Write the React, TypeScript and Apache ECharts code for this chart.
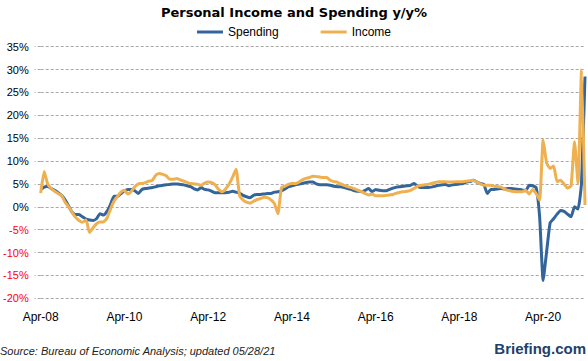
import React, { useEffect, useRef } from "react";
import * as echarts from "echarts";

const MONTH_NAMES = ["Jan", "Feb", "Mar", "Apr", "May", "Jun", "Jul", "Aug", "Sep", "Oct", "Nov", "Dec"];
const START_YEAR = 2008;
const START_MONTH = 3; // April

const spending = [
  3.8, 4.3, 4.5, 4.0, 3.6, 3.1, 2.5, 1.5, 0.2, -1.2, -1.7, -1.7,
  -2.2, -2.7, -2.9, -3.0, -2.6, -1.5, -1.8, -1.0, 0.5, 2.3, 2.3, 2.9,
  3.5, 3.8, 3.8, 3.5, 2.9, 3.8, 4.0, 4.1, 4.2, 4.4, 4.6, 4.7,
  4.8, 4.9, 5.0, 5.0, 4.9, 4.8, 4.6, 4.4, 3.9, 3.7, 4.2, 3.8,
  3.7, 3.4, 3.1, 3.1, 3.1, 3.1, 3.2, 3.4, 3.2, 3.0, 2.5, 2.2,
  2.0, 2.5, 2.7, 2.7, 2.8, 2.9, 2.9, 3.2, 3.3, 3.5, 3.9, 4.4,
  4.6, 4.8, 5.0, 5.1, 5.3, 5.4, 5.4, 5.0, 4.8, 4.8, 4.8, 4.7,
  4.5, 4.4, 4.4, 4.2, 4.0, 3.8, 3.5, 3.4, 3.3, 3.6, 4.0, 3.3,
  3.8, 3.6, 3.5, 3.5, 3.8, 4.1, 4.3, 4.4, 4.5, 4.6, 4.7, 5.1,
  4.5, 4.2, 4.2, 4.2, 4.3, 4.5, 4.7, 4.8, 4.9, 4.6, 4.8, 4.9,
  5.0, 5.1, 5.4, 5.5, 5.8, 5.4, 5.1, 4.9, 2.9, 3.8, 3.8, 3.9,
  4.0, 3.9, 4.0, 4.0, 3.9, 3.8, 3.7, 3.5, 4.7, 4.6, 4.2, -2.2,
  -16.1, -9.8, -3.5, -2.6, -1.6, -0.8, -1.0, -1.6, -2.2, 0.0, -0.5, 5.2,
  28.5,
];

const income = [
  3.0, 7.7, 5.0, 4.0, 3.4, 2.9, 2.5, 1.0, 0.0, -1.2, -2.3, -3.0,
  -3.4, -2.9, -5.6, -4.6, -3.7, -3.3, -3.3, -2.5, -0.5, 1.2, 2.3, 3.2,
  3.6, 2.8, 3.4, 4.4, 5.0, 5.1, 5.3, 5.6, 5.8, 6.9, 7.3, 7.1,
  6.8, 6.0, 6.0, 6.2, 5.9, 5.6, 5.3, 5.1, 5.0, 4.9, 4.7, 5.2,
  5.4, 5.3, 4.8, 3.8, 3.3, 3.9, 5.0, 6.5, 8.2, 2.5, 1.5, 1.0,
  0.8, 1.2, 1.6, 1.8, 2.1, 2.0, 1.5, 0.7, -1.5, 4.2, 4.5, 4.9,
  5.1, 5.1, 5.4, 5.9, 6.2, 6.4, 6.7, 6.6, 6.5, 6.4, 6.4, 5.8,
  5.5, 5.4, 5.0, 4.7, 4.4, 4.2, 3.9, 3.6, 3.3, 2.9, 2.6, 2.8,
  2.4, 2.4, 2.4, 2.5, 2.6, 2.7, 3.0, 3.2, 3.3, 3.4, 3.6, 4.0,
  4.5, 4.7, 4.8, 4.9, 5.1, 5.3, 5.5, 5.5, 5.5, 5.4, 5.4, 5.5,
  5.5, 5.5, 5.6, 5.7, 5.8, 5.4, 5.0, 4.7, 4.7, 4.7, 4.5, 4.4,
  4.3, 3.8, 3.6, 3.4, 3.3, 3.3, 3.3, 3.6, 2.8, 3.8, 2.9, 1.5,
  14.6, 9.6, 8.4, 8.9, 5.5, 5.8, 5.0, 4.1, 4.6, 14.2, 5.1, 29.9,
  0.4,
];

const categories = spending.map((_, i) => {
  const t = START_MONTH + i;
  const yr = (START_YEAR + Math.floor(t / 12)) % 100;
  return MONTH_NAMES[t % 12] + "-" + String(yr).padStart(2, "0");
});

const Y_MIN = -20;
const Y_MAX = 35;
const Y_STEP = 5;
const LABEL_EVERY = 24;

const TITLE = "Personal Income and Spending y/y%";
const SOURCE = "Source: Bureau of Economic Analysis; updated 05/28/21";
const BRAND = "Briefing.com";

const BLUE = "#33659b";
const ORANGE = "#efb04f";
const GRID_COLOR = "#a8a8a8";

export default function App() {
  const ref = useRef<HTMLDivElement>(null);

  useEffect(() => {
    document.body.style.margin = "0";
    if (!ref.current) return;
    const chart = echarts.init(ref.current, null, { renderer: "svg" });
    const gridLine = { color: GRID_COLOR, width: 1, type: [3, 2] as any };
    chart.setOption({
      animation: false,
      backgroundColor: "#ffffff",
      title: {
        text: TITLE,
        left: "center",
        top: 1,
        textStyle: {
          fontFamily: "DejaVu Sans",
          fontWeight: "bold",
          fontSize: 13,
          color: "#000",
        },
      },
      legend: {
        top: 21,
        left: "center",
        icon: "rect",
        itemWidth: 26,
        itemHeight: 3,
        itemGap: 42,
        textStyle: { fontFamily: "Liberation Sans", fontSize: 12, color: "#000" },
        data: ["Spending", "Income"],
      },
      grid: { left: 39, right: 3, top: 46.7, bottom: 62.7, containLabel: false },
      xAxis: {
        type: "category",
        data: categories,
        boundaryGap: false,
        axisLine: { show: false },
        axisTick: { show: false },
        splitLine: { show: false },
        axisLabel: {
          interval: LABEL_EVERY - 1,
          margin: 13,
          fontFamily: "Liberation Sans",
          fontSize: 12,
          color: "#000",
        },
      },
      yAxis: {
        type: "value",
        min: Y_MIN,
        max: Y_MAX,
        interval: Y_STEP,
        axisLine: { show: false },
        axisTick: { show: true, length: 6, lineStyle: gridLine },
        splitLine: { show: true, lineStyle: gridLine },
        axisLabel: {
          formatter: (v: number) => v + "%",
          margin: 12,
          fontFamily: "Liberation Sans",
          fontSize: 11,
          color: (v: any) => (Number(v) < 0 ? "#ff0000" : "#000000"),
        },
      },
      series: [
        {
          name: "Spending",
          type: "line",
          data: spending,
          symbol: "none",
          smooth: 0.15,
          lineStyle: { color: BLUE, width: 3 },
          itemStyle: { color: BLUE },
        },
        {
          name: "Income",
          type: "line",
          data: income,
          symbol: "none",
          smooth: 0.15,
          lineStyle: { color: ORANGE, width: 3 },
          itemStyle: { color: ORANGE },
        },
      ],
      graphic: [
        {
          type: "text",
          x: 0,
          y: 345,
          style: {
            text: SOURCE,
            fontFamily: "Liberation Sans",
            fontStyle: "italic",
            fontSize: 11,
            fill: "#222",
          },
        },
        {
          type: "text",
          x: 586,
          y: 341,
          style: {
            text: BRAND,
            align: "right",
            fontFamily: "Liberation Sans",
            fontWeight: "bold",
            fontSize: 15,
            fill: "#22406a",
          },
        },
      ],
    });
    return () => chart.dispose();
  }, []);

  return <div ref={ref} style={{ width: 588, height: 361 }} />;
}
